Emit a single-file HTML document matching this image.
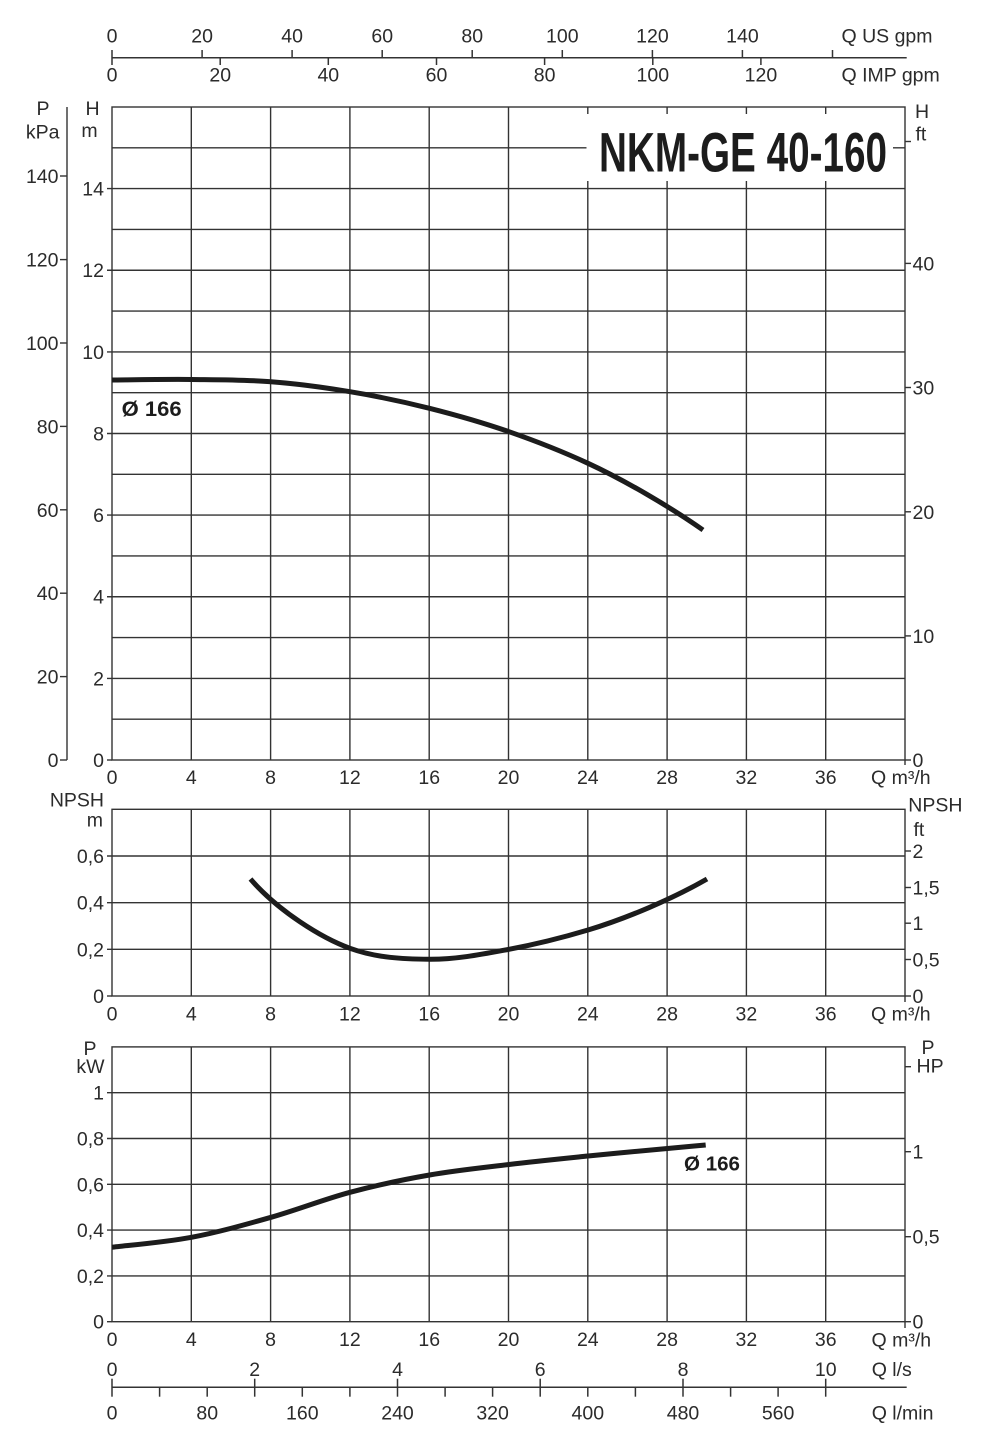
<!DOCTYPE html>
<html>
<head>
<meta charset="utf-8">
<style>
html,body{margin:0;padding:0;background:#fff;}
svg{display:block;}
text{font-family:"Liberation Sans",Arial,sans-serif;fill:#2b2b2b;font-size:19.5px;}
.b{font-weight:bold;fill:#1c1c1c;}
</style>
</head>
<body>
<svg width="981" height="1437" viewBox="0 0 981 1437" xmlns="http://www.w3.org/2000/svg">
<rect width="981" height="1437" fill="#fff"/>

<!-- ============ TOP AXES (US gpm / IMP gpm) ============ -->
<g stroke="#333" stroke-width="1.5" fill="none">
  <line x1="112" y1="57.7" x2="906.7" y2="57.7"/>
  <line x1="112" y1="50" x2="112" y2="65"/>
  <line x1="202.1" y1="50" x2="202.1" y2="57.7"/>
  <line x1="292.1" y1="50" x2="292.1" y2="57.7"/>
  <line x1="382.2" y1="50" x2="382.2" y2="57.7"/>
  <line x1="472.2" y1="50" x2="472.2" y2="57.7"/>
  <line x1="562.3" y1="50" x2="562.3" y2="57.7"/>
  <line x1="652.4" y1="50" x2="652.4" y2="57.7"/>
  <line x1="742.4" y1="50" x2="742.4" y2="57.7"/>
  <line x1="832.5" y1="50" x2="832.5" y2="57.7"/>
  <line x1="220.2" y1="57.7" x2="220.2" y2="65"/>
  <line x1="328.3" y1="57.7" x2="328.3" y2="65"/>
  <line x1="436.5" y1="57.7" x2="436.5" y2="65"/>
  <line x1="544.6" y1="57.7" x2="544.6" y2="65"/>
  <line x1="652.8" y1="57.7" x2="652.8" y2="65"/>
  <line x1="760.9" y1="57.7" x2="760.9" y2="65"/>
</g>
<g text-anchor="middle">
  <text x="112" y="42.5">0</text>
  <text x="202.1" y="42.5">20</text>
  <text x="292.1" y="42.5">40</text>
  <text x="382.2" y="42.5">60</text>
  <text x="472.2" y="42.5">80</text>
  <text x="562.3" y="42.5">100</text>
  <text x="652.4" y="42.5">120</text>
  <text x="742.4" y="42.5">140</text>
  <text x="112" y="81.7">0</text>
  <text x="220.2" y="81.7">20</text>
  <text x="328.3" y="81.7">40</text>
  <text x="436.5" y="81.7">60</text>
  <text x="544.6" y="81.7">80</text>
  <text x="652.8" y="81.7">100</text>
  <text x="760.9" y="81.7">120</text>
</g>
<text x="841.5" y="42.5">Q US gpm</text>
<text x="841.5" y="81.7">Q IMP gpm</text>

<!-- ============ MAIN H CHART ============ -->
<g stroke="#333" stroke-width="1.4" fill="none">
  <line x1="112" y1="719.2" x2="905" y2="719.2"/>
  <line x1="107" y1="678.4" x2="905" y2="678.4"/>
  <line x1="112" y1="637.6" x2="905" y2="637.6"/>
  <line x1="107" y1="596.75" x2="905" y2="596.75"/>
  <line x1="112" y1="555.9" x2="905" y2="555.9"/>
  <line x1="107" y1="515.1" x2="905" y2="515.1"/>
  <line x1="112" y1="474.3" x2="905" y2="474.3"/>
  <line x1="107" y1="433.5" x2="905" y2="433.5"/>
  <line x1="112" y1="392.7" x2="905" y2="392.7"/>
  <line x1="107" y1="351.9" x2="905" y2="351.9"/>
  <line x1="112" y1="311.1" x2="905" y2="311.1"/>
  <line x1="107" y1="270.25" x2="905" y2="270.25"/>
  <line x1="112" y1="229.4" x2="905" y2="229.4"/>
  <line x1="107" y1="188.6" x2="905" y2="188.6"/>
  <line x1="112" y1="147.8" x2="905" y2="147.8"/>
  <line x1="107" y1="760" x2="112" y2="760"/>
  <line x1="191.3" y1="107" x2="191.3" y2="760"/>
  <line x1="270.6" y1="107" x2="270.6" y2="760"/>
  <line x1="349.9" y1="107" x2="349.9" y2="760"/>
  <line x1="429.2" y1="107" x2="429.2" y2="760"/>
  <line x1="508.5" y1="107" x2="508.5" y2="760"/>
  <line x1="587.8" y1="107" x2="587.8" y2="760"/>
  <line x1="667.1" y1="107" x2="667.1" y2="760"/>
  <line x1="746.4" y1="107" x2="746.4" y2="760"/>
  <line x1="825.7" y1="107" x2="825.7" y2="760"/>
  <rect x="112" y="107" width="793" height="653"/>
  <line x1="905" y1="760" x2="911" y2="760"/>
  <line x1="905" y1="635.9" x2="911" y2="635.9"/>
  <line x1="905" y1="511.8" x2="911" y2="511.8"/>
  <line x1="905" y1="387.5" x2="911" y2="387.5"/>
  <line x1="905" y1="263.4" x2="911" y2="263.4"/>
  <line x1="905" y1="141.5" x2="911" y2="141.5"/>
  <line x1="905" y1="760" x2="905" y2="765"/>
  <line x1="67" y1="107" x2="67" y2="760"/>
  <line x1="60" y1="760" x2="67" y2="760"/>
  <line x1="60" y1="676.6" x2="67" y2="676.6"/>
  <line x1="60" y1="593.2" x2="67" y2="593.2"/>
  <line x1="60" y1="509.8" x2="67" y2="509.8"/>
  <line x1="60" y1="426.4" x2="67" y2="426.4"/>
  <line x1="60" y1="343" x2="67" y2="343"/>
  <line x1="60" y1="259.6" x2="67" y2="259.6"/>
  <line x1="60" y1="176" x2="67" y2="176"/>
</g>
<rect x="586.5" y="114" width="306.5" height="67" fill="#fff"/>
<text class="b" x="599" y="171.7" textLength="288" lengthAdjust="spacingAndGlyphs" style="font-size:56px">NKM-GE 40-160</text>

<text x="43" y="115" text-anchor="middle">P</text>
<text x="42.7" y="138.3" text-anchor="middle">kPa</text>
<text x="92.5" y="115" text-anchor="middle">H</text>
<text x="89.5" y="137" text-anchor="middle">m</text>
<g text-anchor="end">
  <text x="58.5" y="767">0</text>
  <text x="58.5" y="683.6">20</text>
  <text x="58.5" y="600.2">40</text>
  <text x="58.5" y="516.8">60</text>
  <text x="58.5" y="433.4">80</text>
  <text x="58.5" y="350">100</text>
  <text x="58.5" y="266.6">120</text>
  <text x="58.5" y="183">140</text>
  <text x="104" y="767">0</text>
  <text x="104" y="685.4">2</text>
  <text x="104" y="603.7">4</text>
  <text x="104" y="522.1">6</text>
  <text x="104" y="440.5">8</text>
  <text x="104" y="358.9">10</text>
  <text x="104" y="277.2">12</text>
  <text x="104" y="195.6">14</text>
</g>
<text x="915" y="118">H</text>
<text x="915.5" y="140.7">ft</text>
<text x="912.5" y="767.2">0</text>
<text x="912.5" y="643.1">10</text>
<text x="912.5" y="519">20</text>
<text x="912.5" y="394.7">30</text>
<text x="912.5" y="270.6">40</text>
<g text-anchor="middle">
  <text x="112" y="784">0</text>
  <text x="191.3" y="784">4</text>
  <text x="270.6" y="784">8</text>
  <text x="349.9" y="784">12</text>
  <text x="429.2" y="784">16</text>
  <text x="508.5" y="784">20</text>
  <text x="587.8" y="784">24</text>
  <text x="667.1" y="784">28</text>
  <text x="746.4" y="784">32</text>
  <text x="825.7" y="784">36</text>
</g>
<text x="871" y="784">Q m³/h</text>

<path d="M112,380 C125.25,379.9 165,379.2 191.5,379.5 C218,379.8 244.6,379.7 271,381.7 C297.4,383.7 323.6,387.3 350,391.7 C376.4,396.1 403,401.6 429.5,408.3 C456,415 482.6,422.5 509,431.7 C535.4,440.9 561.6,451.1 588,463.3 C624.3,480.1 670.3,507 703,530" fill="none" stroke="#1c1c1c" stroke-width="5"/>
<text class="b" x="121.7" y="416" textLength="60" lengthAdjust="spacingAndGlyphs" style="font-size:21px">Ø 166</text>

<!-- ============ NPSH CHART ============ -->
<g stroke="#333" stroke-width="1.4" fill="none">
  <line x1="107" y1="856" x2="905" y2="856"/>
  <line x1="107" y1="902.7" x2="905" y2="902.7"/>
  <line x1="107" y1="949.3" x2="905" y2="949.3"/>
  <line x1="107" y1="996" x2="112" y2="996"/>
  <line x1="191.3" y1="809.3" x2="191.3" y2="996"/>
  <line x1="270.6" y1="809.3" x2="270.6" y2="996"/>
  <line x1="349.9" y1="809.3" x2="349.9" y2="996"/>
  <line x1="429.2" y1="809.3" x2="429.2" y2="996"/>
  <line x1="508.5" y1="809.3" x2="508.5" y2="996"/>
  <line x1="587.8" y1="809.3" x2="587.8" y2="996"/>
  <line x1="667.1" y1="809.3" x2="667.1" y2="996"/>
  <line x1="746.4" y1="809.3" x2="746.4" y2="996"/>
  <line x1="825.7" y1="809.3" x2="825.7" y2="996"/>
  <rect x="112" y="809.3" width="793" height="186.7"/>
  <line x1="905" y1="996" x2="905" y2="1002"/>
  <line x1="905" y1="996" x2="911" y2="996"/>
  <line x1="905" y1="959.5" x2="911" y2="959.5"/>
  <line x1="905" y1="923.2" x2="911" y2="923.2"/>
  <line x1="905" y1="887.5" x2="911" y2="887.5"/>
  <line x1="905" y1="851" x2="911" y2="851"/>
</g>
<text x="104" y="806.7" text-anchor="end">NPSH</text>
<text x="103" y="826.7" text-anchor="end">m</text>
<g text-anchor="end">
  <text x="104" y="1003">0</text>
  <text x="104" y="956.3">0,2</text>
  <text x="104" y="909.7">0,4</text>
  <text x="104" y="863">0,6</text>
</g>
<text x="908.3" y="811.7">NPSH</text>
<text x="913.5" y="836">ft</text>
<text x="912.5" y="1003">0</text>
<text x="912.5" y="966.5">0,5</text>
<text x="912.5" y="930.2">1</text>
<text x="912.5" y="894.5">1,5</text>
<text x="912.5" y="858">2</text>
<g text-anchor="middle">
  <text x="112" y="1020.5">0</text>
  <text x="191.3" y="1020.5">4</text>
  <text x="270.6" y="1020.5">8</text>
  <text x="349.9" y="1020.5">12</text>
  <text x="429.2" y="1020.5">16</text>
  <text x="508.5" y="1020.5">20</text>
  <text x="587.8" y="1020.5">24</text>
  <text x="667.1" y="1020.5">28</text>
  <text x="746.4" y="1020.5">32</text>
  <text x="825.7" y="1020.5">36</text>
</g>
<text x="871" y="1020.5">Q m³/h</text>
<path d="M250.5,879 C278,911 321.8,938.1 350,948.3 C376.5,957.9 403,959.1 429.5,959.3 C456,959.5 482.6,954.2 509,949.3 C535.4,944.4 561.6,937.9 588,930 C626.3,918.5 672.3,898.9 707,879" fill="none" stroke="#1c1c1c" stroke-width="5"/>

<!-- ============ POWER CHART ============ -->
<g stroke="#333" stroke-width="1.4" fill="none">
  <line x1="107" y1="1092.7" x2="905" y2="1092.7"/>
  <line x1="107" y1="1138.5" x2="905" y2="1138.5"/>
  <line x1="107" y1="1184.3" x2="905" y2="1184.3"/>
  <line x1="107" y1="1230.1" x2="905" y2="1230.1"/>
  <line x1="107" y1="1275.9" x2="905" y2="1275.9"/>
  <line x1="107" y1="1321.7" x2="112" y2="1321.7"/>
  <line x1="191.3" y1="1046.9" x2="191.3" y2="1321.7"/>
  <line x1="270.6" y1="1046.9" x2="270.6" y2="1321.7"/>
  <line x1="349.9" y1="1046.9" x2="349.9" y2="1321.7"/>
  <line x1="429.2" y1="1046.9" x2="429.2" y2="1321.7"/>
  <line x1="508.5" y1="1046.9" x2="508.5" y2="1321.7"/>
  <line x1="587.8" y1="1046.9" x2="587.8" y2="1321.7"/>
  <line x1="667.1" y1="1046.9" x2="667.1" y2="1321.7"/>
  <line x1="746.4" y1="1046.9" x2="746.4" y2="1321.7"/>
  <line x1="825.7" y1="1046.9" x2="825.7" y2="1321.7"/>
  <rect x="112" y="1046.9" width="793" height="274.8"/>
  <line x1="905" y1="1321.7" x2="905" y2="1328"/>
  <line x1="905" y1="1321.7" x2="911" y2="1321.7"/>
  <line x1="905" y1="1236.7" x2="911" y2="1236.7"/>
  <line x1="905" y1="1151.7" x2="911" y2="1151.7"/>
  <line x1="905" y1="1066.7" x2="911" y2="1066.7"/>
</g>
<text x="90" y="1055" text-anchor="middle">P</text>
<text x="90.5" y="1073" text-anchor="middle">kW</text>
<g text-anchor="end">
  <text x="104" y="1328.7">0</text>
  <text x="104" y="1282.9">0,2</text>
  <text x="104" y="1237.1">0,4</text>
  <text x="104" y="1191.3">0,6</text>
  <text x="104" y="1145.5">0,8</text>
  <text x="104" y="1099.7">1</text>
</g>
<text x="921.5" y="1054">P</text>
<text x="916.5" y="1072.7">HP</text>
<text x="912.5" y="1328.7">0</text>
<text x="912.5" y="1243.7">0,5</text>
<text x="912.5" y="1158.7">1</text>
<g text-anchor="middle">
  <text x="112" y="1346">0</text>
  <text x="191.3" y="1346">4</text>
  <text x="270.6" y="1346">8</text>
  <text x="349.9" y="1346">12</text>
  <text x="429.2" y="1346">16</text>
  <text x="508.5" y="1346">20</text>
  <text x="587.8" y="1346">24</text>
  <text x="667.1" y="1346">28</text>
  <text x="746.4" y="1346">32</text>
  <text x="825.7" y="1346">36</text>
</g>
<text x="871.5" y="1346.7">Q m³/h</text>
<path d="M112,1247.3 C125.25,1245.6 165,1242.3 191.5,1237.3 C218,1232.3 244.6,1224.8 271,1217.3 C297.4,1209.8 323.6,1199.4 350,1192.3 C376.4,1185.25 403,1179.6 429.5,1175 C456,1170.4 482.6,1167.7 509,1164.5 C535.4,1161.3 561.6,1158.7 588,1156 C614.4,1153.3 647.8,1150.3 667.4,1148.5 C687,1146.7 692.9,1146.2 705.7,1145" fill="none" stroke="#1c1c1c" stroke-width="5"/>
<text class="b" x="684" y="1170.7" textLength="56" lengthAdjust="spacingAndGlyphs" style="font-size:20.5px">Ø 166</text>

<!-- ============ BOTTOM AXES (l/s, l/min) ============ -->
<g stroke="#333" stroke-width="1.5" fill="none">
  <line x1="112" y1="1387.3" x2="906.7" y2="1387.3"/>
  <line x1="112" y1="1378.7" x2="112" y2="1396.7"/>
  <line x1="254.7" y1="1378.7" x2="254.7" y2="1396.7"/>
  <line x1="397.5" y1="1378.7" x2="397.5" y2="1396.7"/>
  <line x1="540.2" y1="1378.7" x2="540.2" y2="1396.7"/>
  <line x1="683" y1="1378.7" x2="683" y2="1396.7"/>
  <line x1="825.7" y1="1378.7" x2="825.7" y2="1396.7"/>
  <line x1="159.6" y1="1387.3" x2="159.6" y2="1396.7"/>
  <line x1="207.2" y1="1387.3" x2="207.2" y2="1396.7"/>
  <line x1="302.3" y1="1387.3" x2="302.3" y2="1396.7"/>
  <line x1="349.9" y1="1387.3" x2="349.9" y2="1396.7"/>
  <line x1="445.1" y1="1387.3" x2="445.1" y2="1396.7"/>
  <line x1="492.6" y1="1387.3" x2="492.6" y2="1396.7"/>
  <line x1="587.8" y1="1387.3" x2="587.8" y2="1396.7"/>
  <line x1="635.4" y1="1387.3" x2="635.4" y2="1396.7"/>
  <line x1="730.6" y1="1387.3" x2="730.6" y2="1396.7"/>
  <line x1="778.1" y1="1387.3" x2="778.1" y2="1396.7"/>
</g>
<g text-anchor="middle">
  <text x="112" y="1376">0</text>
  <text x="254.7" y="1376">2</text>
  <text x="397.5" y="1376">4</text>
  <text x="540.2" y="1376">6</text>
  <text x="683" y="1376">8</text>
  <text x="825.7" y="1376">10</text>
  <text x="112" y="1419.3">0</text>
  <text x="207.2" y="1419.3">80</text>
  <text x="302.3" y="1419.3">160</text>
  <text x="397.5" y="1419.3">240</text>
  <text x="492.6" y="1419.3">320</text>
  <text x="587.8" y="1419.3">400</text>
  <text x="683" y="1419.3">480</text>
  <text x="778.1" y="1419.3">560</text>
</g>
<text x="871.7" y="1376">Q l/s</text>
<text x="871.7" y="1419.3">Q l/min</text>
</svg>
</body>
</html>
